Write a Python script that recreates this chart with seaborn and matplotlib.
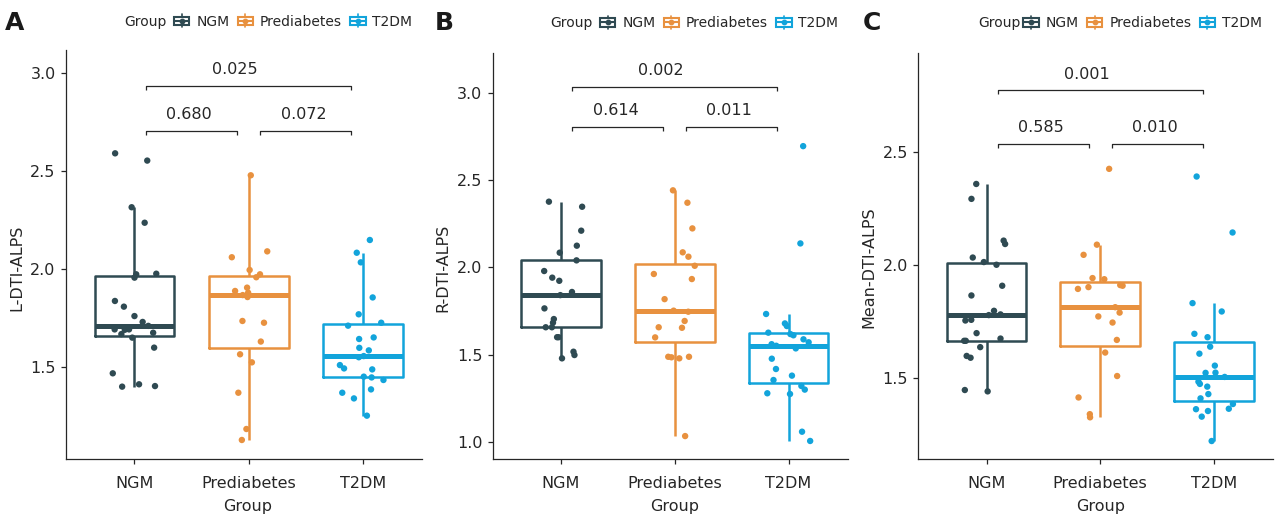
import numpy as np
import pandas as pd
import matplotlib
matplotlib.use("Agg")
import matplotlib.pyplot as plt
import seaborn as sns
from matplotlib.patches import Rectangle, Patch
from matplotlib.lines import Line2D
from matplotlib.legend_handler import HandlerBase

groups = ["NGM", "Prediabetes", "T2DM"]
colors = ["#2F4A52", "#E8913F", "#12A4DB"]

# L-DTI-ALPS values per group
l_ngm = [2.590, 2.553, 2.315, 2.236, 1.976, 1.973, 1.956, 1.837, 1.808, 1.760, 1.730, 1.710,
         1.692, 1.692, 1.690, 1.675, 1.668, 1.650, 1.599, 1.468, 1.412, 1.403, 1.400]
l_pre = [2.478, 2.090, 2.060, 1.995, 1.973, 1.958, 1.905, 1.888, 1.879, 1.867, 1.857, 1.735,
         1.726, 1.630, 1.565, 1.524, 1.369, 1.184, 1.128]
l_t2d = [2.148, 2.083, 2.034, 1.855, 1.769, 1.726, 1.711, 1.651, 1.643, 1.598, 1.585, 1.556,
         1.550, 1.510, 1.493, 1.488, 1.451, 1.447, 1.434, 1.386, 1.369, 1.340, 1.252]

# R-DTI-ALPS
r_ngm = [2.376, 2.347, 2.210, 2.124, 2.084, 2.040, 1.979, 1.941, 1.923, 1.859, 1.841, 1.765,
         1.704, 1.683, 1.657, 1.657, 1.600, 1.600, 1.517, 1.498, 1.479]
r_pre = [2.441, 2.370, 2.223, 2.086, 2.061, 2.009, 1.962, 1.933, 1.818, 1.752, 1.746, 1.693,
         1.657, 1.654, 1.599, 1.488, 1.488, 1.485, 1.479, 1.034]
r_t2d = [2.694, 2.137, 1.733, 1.679, 1.664, 1.626, 1.618, 1.611, 1.588, 1.571, 1.560, 1.551,
         1.536, 1.477, 1.418, 1.380, 1.355, 1.321, 1.300, 1.279, 1.275, 1.059, 1.006]

# Mean-DTI-ALPS
m_ngm = [2.358, 2.292, 2.107, 2.092, 2.032, 2.012, 2.000, 1.907, 1.864, 1.796, 1.780, 1.777,
         1.756, 1.753, 1.697, 1.673, 1.663, 1.663, 1.635, 1.596, 1.588, 1.445, 1.439]
m_pre = [2.425, 2.089, 2.044, 1.941, 1.936, 1.910, 1.907, 1.901, 1.893, 1.812, 1.788, 1.771,
         1.744, 1.667, 1.611, 1.507, 1.412, 1.338, 1.324]
m_t2d = [2.391, 2.143, 1.830, 1.793, 1.694, 1.679, 1.637, 1.606, 1.553, 1.522, 1.521, 1.503,
         1.482, 1.472, 1.460, 1.427, 1.408, 1.383, 1.362, 1.360, 1.352, 1.327, 1.219]

# pairwise comparisons: (group i, group j)
pairs = [(0, 1), (1, 2), (0, 2)]
l_pvals = ["0.680", "0.072", "0.025"]
r_pvals = ["0.614", "0.011", "0.002"]
m_pvals = ["0.585", "0.010", "0.001"]

sns.set_theme(style="ticks")
plt.rcParams["font.family"] = ["DejaVu Sans"]
ink = "#262626"

W, H = 1279, 520
fig = plt.figure(figsize=(W / 100, H / 100), dpi=100)


class BoxKey(HandlerBase):
    # little boxplot glyph like ggplot's legend key, with the jitter dot on top
    def create_artists(self, legend, orig, xd, yd, width, height, fontsize, trans):
        c = orig.get_edgecolor()
        x0, y0 = -xd, -yd
        ym = y0 + height / 2
        rect = Rectangle((x0, y0 + height * 0.12), width, height * 0.76, facecolor="white",
                         edgecolor=c, lw=1.5, transform=trans)
        mid = Line2D([x0, x0 + width], [ym, ym], color=c, lw=1.5, transform=trans)
        wh = Line2D([x0 + width / 2] * 2, [y0 - height * 0.1, y0 + height * 1.1], color=c,
                    lw=1.2, transform=trans)
        dot = Line2D([x0 + width / 2], [ym], marker="o", ms=3.2, color=c, lw=0,
                     transform=trans)
        return [wh, rect, mid, dot]


def px_axes(l, r, t, b):
    return fig.add_axes([l / W, 1 - b / H, (r - l) / W, (b - t) / H])


panels = [
    dict(letter="A", label="L-DTI-ALPS", vals=(l_ngm, l_pre, l_t2d), pvals=l_pvals,
         box=(66, 422, 50, 459), ylim=(1.031, 3.117), yticks=[1.5, 2.0, 2.5, 3.0],
         brk=[2.706, 2.706, 2.934], letter_x=5, grp_x=124, key_x=174, leg_y=21.7),
    dict(letter="B", label="R-DTI-ALPS", vals=(r_ngm, r_pre, r_t2d), pvals=r_pvals,
         box=(492.7, 847.7, 52.7, 459.3), ylim=(0.901, 3.229), yticks=[1.0, 1.5, 2.0, 2.5, 3.0],
         brk=[2.805, 2.805, 3.034], letter_x=435, grp_x=550, key_x=600, leg_y=23.3),
    dict(letter="C", label="Mean-DTI-ALPS", vals=(m_ngm, m_pre, m_t2d), pvals=m_pvals,
         box=(918.3, 1273, 53.3, 459.3), ylim=(1.138, 2.937), yticks=[1.5, 2.0, 2.5],
         brk=[2.537, 2.537, 2.774], letter_x=862.7, grp_x=978.3, key_x=1023.3, leg_y=23.3),
]

np.random.seed(7)

for p in panels:
    l, r, t, b = p["box"]
    ax = px_axes(l, r, t, b)
    vals = p["vals"]
    df = pd.DataFrame({
        "Group": np.repeat(groups, [len(v) for v in vals]),
        "value": np.concatenate(vals),
    })
    sns.boxplot(data=df, x="Group", y="value", hue="Group", order=groups, hue_order=groups,
                palette=colors, fill=False, width=0.7, linewidth=1.8, showfliers=False,
                showcaps=False, medianprops=dict(linewidth=3.6), legend=False, ax=ax)
    sns.stripplot(data=df, x="Group", y="value", hue="Group", order=groups, hue_order=groups,
                  palette=colors, jitter=0.2, size=4.6, legend=False, ax=ax, zorder=4)

    ax.set_xlim(-0.6, 2.52)
    ax.set_ylim(*p["ylim"])
    ax.set_yticks(p["yticks"])
    ax.set_yticklabels([f"{v:.1f}" for v in p["yticks"]])
    sns.despine(ax=ax)
    for s in ["left", "bottom"]:
        ax.spines[s].set_color(ink)
        ax.spines[s].set_linewidth(0.9)
    ax.tick_params(axis="both", colors=ink, labelcolor=ink, labelsize=11.5,
                   length=3.5, width=0.9)
    ax.tick_params(axis="x", pad=8.5)
    ax.tick_params(axis="y", pad=4)
    ax.set_xlabel("Group", fontsize=11.5, color=ink)
    ax.set_ylabel(p["label"], fontsize=11.5, color=ink)
    ax_w, ax_h = r - l, b - t
    ax.xaxis.set_label_coords(182 / ax_w, -(499 - b) / ax_h)
    ax.yaxis.set_label_coords(-42 / ax_w, 1 - (267.5 - t) / ax_h)

    # significance brackets
    yr = p["ylim"][1] - p["ylim"][0]
    tip = 0.01 * yr
    for (i, j), pv, yb in zip(pairs, p["pvals"], p["brk"]):
        x0, x1 = i + 0.1, j - 0.1
        ax.plot([x0, x0, x1, x1], [yb - tip, yb, yb, yb - tip], color=ink, lw=0.9,
                solid_capstyle="butt", clip_on=False)
        shift = -0.12 if (j - i) == 2 else -0.02
        ax.annotate(pv, xy=((i + j) / 2 + shift, yb), xytext=(0, 11.5),
                    textcoords="offset points", ha="center", va="center",
                    fontsize=11.5, color=ink)

    # panel letter
    fig.text(p["letter_x"] / W, 1 - 23 / H, p["letter"], fontsize=18, fontweight="heavy",
             color="#1a1a1a", ha="left", va="center")

    # legend row
    fig.text(p["grp_x"] / W, 1 - p["leg_y"] / H, "Group", fontsize=10, color=ink,
             ha="left", va="center")
    handles = [Patch(facecolor="white", edgecolor=c) for c in colors]
    ax.legend(handles, groups, handler_map={Patch: BoxKey()},
              ncol=3, loc="center left", bbox_to_anchor=(p["key_x"] / W, 1 - p["leg_y"] / H),
              bbox_transform=fig.transFigure, frameon=False, fontsize=10,
              handlelength=1.1, handleheight=0.8, handletextpad=0.5, columnspacing=0.6,
              borderpad=0, borderaxespad=0, labelcolor=ink)

fig.savefig("out.png", dpi=100)
